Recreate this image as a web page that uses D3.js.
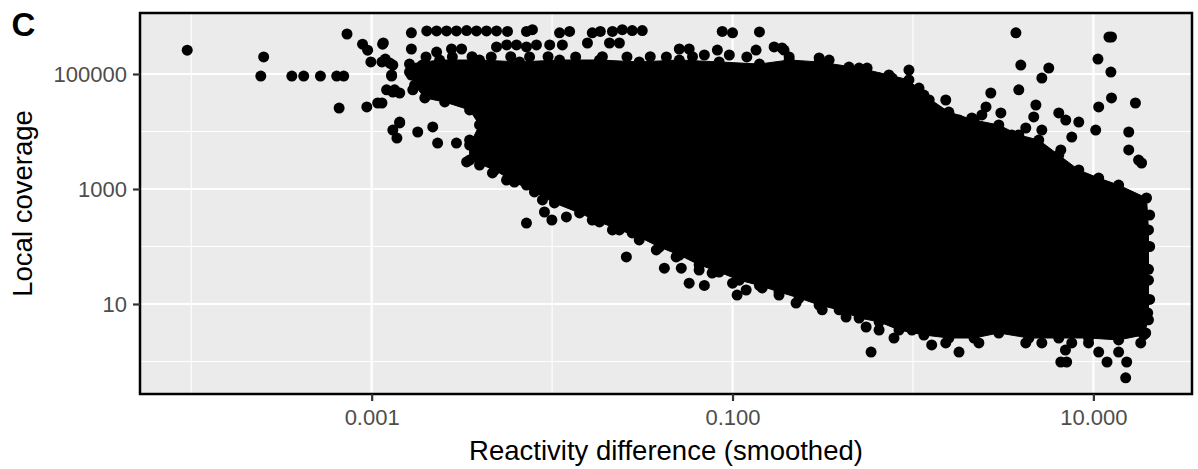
<!DOCTYPE html>
<html><head><meta charset="utf-8">
<script src="https://cdn.jsdelivr.net/npm/d3@7"></script>
<style>
body{margin:0;background:#fff}
svg{display:block}
text{font-family:"Liberation Sans",Arial,Helvetica,sans-serif}
</style>
</head><body>
<svg id="chart" width="1198" height="469"></svg>
<script>
// ---------- data ----------
const xTickValues = [0.001, 0.1, 10];
const xTickLabels = ["0.001", "0.100", "10.000"];
const yTickValues = [10, 1000, 100000];
const yTickLabels = ["10", "1000", "100000"];
const xMinorBreaks = [0.0001, 0.01, 1];
const yMinorBreaks = [1, 100, 10000];
const xDomain = [5.2e-5, 35.2];
const yDomain = [0.272, 1.15e6];

// outline of the saturated (overplotted) core of the point cloud
const coreX = [1.62e-3, 2.38e-3, 3.96e-3, 6.6e-3, 1.1e-2, 1.83e-2, 3.04e-2, 5.07e-2, 8.43e-2, 0.141, 0.206, 0.302, 0.503, 0.736, 0.95, 1.15, 1.58, 2.18, 2.99, 3.86, 4.98, 6.43, 8.3, 10.7, 13.8, 19.7, 20.2, 20.2, 20.2, 19.0, 13.8, 9.4, 6.43, 4.39, 2.99, 2.18, 1.58, 1.15, 0.837, 0.649, 0.503, 0.39, 0.302, 0.234, 0.181, 0.141, 0.109, 8.43e-2, 6.53e-2, 5.07e-2, 3.93e-2, 3.04e-2, 2.36e-2, 1.83e-2, 1.42e-2, 1.03e-2, 7.98e-3, 6.18e-3, 4.8e-3, 3.49e-3, 3.49e-3, 3.96e-3, 3.49e-3, 2.54e-3, 1.97e-3, 1.73e-3, 1.62e-3];
const coreY = [1.49e5, 1.75e5, 1.75e5, 1.62e5, 1.75e5, 1.75e5, 1.62e5, 1.75e5, 1.62e5, 1.49e5, 1.75e5, 1.62e5, 1.27e5, 9.6e4, 7.9e4, 4.3e4, 2.18e4, 1.58e4, 1.3e4, 8.7e3, 7.1e3, 3.9e3, 2.14e3, 1.55e3, 1.17e3, 697, 194, 26, 5.3, 2.9, 2.37, 2.56, 2.56, 2.56, 3.13, 2.56, 2.56, 2.89, 3.53, 4.9, 5.7, 7.9, 9.6, 12.7, 16.2, 21, 26, 36, 48, 71, 98, 146, 194, 267, 383, 571, 887, 1.32e3, 2.14e3, 3.19e3, 5.8e3, 1.3e4, 2.37e4, 3.26e4, 3.83e4, 6.4e4, 1.08e5];

// individual points outside the saturated core
const pointX = [
  9.5e-5, 2.52e-4, 2.43e-4, 3.61e-4, 4.2e-4, 5.2e-4, 6.4e-4, 7.0e-4, 6.6e-4, 7.3e-4, 8.9e-4, 9.5e-4, 1.15e-3, 9.9e-4, 1.14e-3, 1.19e-3, 1.31e-3, 1.29e-3, 1.21e-3, 1.34e-3, 9.4e-4, 1.08e-3, 1.31e-3, 1.38e-3, 1.43e-3,
  1.31e-3, 1.69e-3, 1.43e-3, 1.8e-3, 2.18e-3, 2.32e-3, 2.95e-3, 3.49e-3, 3.36e-3, 3.96e-3, 4.67e-3, 5.59e-3, 7.21e-3, 8.19e-3, 8.84e-3, 9.07e-3, 7.21e-3, 9.97e-3, 1.2e-2, 1.67e-2, 2.16e-2, 2.78e-2,
  2.58e-2, 3.04e-2, 3.78e-2, 4.19e-2, 4.87e-2, 5.2e-2, 5.75e-2, 6.98e-2, 6.53e-2, 7.71e-2, 0.1, 0.106, 0.119, 0.146, 0.181, 0.225, 0.314, 0.426, 0.55, 0.586, 0.649, 0.785, 0.988,
  1.27, 1.52, 1.8, 2.32, 4.22, 5.18, 6.6, 7.11, 7.0, 7.59, 9.4, 10.7, 11.9, 13.8, 15.3, 15.1, 18.3, 19.5,
  3.72, 3.96, 3.86, 5.66, 5.18, 12.2, 12.6, 10.6, 12.5, 2.7, 4.8, 4.67, 3.53, 3.86, 4.22, 5.18, 6.43, 7.03, 8.3, 7.59, 6.6, 6.6, 10.3, 10.7, 15.7, 17.1, 12.6, 15.7, 17.8, 18.5,
  0.188, 0.206, 0.225, 0.302, 0.343, 0.442, 0.557, 0.649, 0.766, 0.95, 1.08, 1.23, 1.52, 1.58, 1.8, 2.12, 2.41, 2.54, 3.07,
  1.26e-3, 1.29e-3, 1.43e-3, 1.14e-3, 1.66e-3, 1.91e-3,
  20.5, 20.5, 20.2, 20.5, 20.0
];
const pointY = [
  2.6e5, 1.98e5, 9.2e4, 9.2e4, 9.2e4, 9.2e4, 9.2e4, 9.2e4, 2.56e4, 4.96e5, 3.3e5, 2.6e5, 3.3e5, 1.62e5, 1.62e5, 1.82e5, 1.43e5, 9.2e4, 5.3e4, 5.3e4, 2.67e4, 3.13e4, 1.06e4, 7.7e3, 1.41e4,
  4.86e4, 5.3e4, 1.46e4, 9.8e3, 1.2e4, 6.3e3, 6.3e3, 7.1e3, 2.95e3, 2.61e3, 1.9e3, 1.43e3, 1.17e3, 961, 644, 398, 256, 289, 326, 289, 194, 172,
  65.7, 130, 87, 42, 65.7, 42, 23, 21, 39, 34.6, 23, 14.3, 17.5, 19, 14.3, 10.4, 7.9, 5.94, 3.98, 1.46, 3.53, 2.56, 3.53,
  1.94, 2.1, 1.46, 2.1, 2.1, 2.1, 0.98, 0.98, 1.58, 2.1, 2.1, 1.46, 0.98, 1.46, 0.98, 0.52, 2.1, 3.13,
  5.2e5, 1.43e5, 5.3e4, 1.27e5, 8.5e4, 4.4e5, 4.4e5, 1.82e5, 1.08e5, 4.67e4, 2.89e4, 1.79e4, 8.7e3, 6.3e3, 1.15e4, 1.06e4, 2.1e4, 1.58e4, 1.46e4, 8.0e3, 4.77e3, 2.32e3, 1.06e4, 2.67e4, 9.8e3, 3.13e4, 3.83e4, 4.77e3, 3.19e3, 2.83e3,
  2.83e5, 1.98e5, 1.32e5, 1.9e5, 1.75e5, 1.32e5, 1.27e5, 8.5e4, 8.5e4, 1.17e5, 5.7e4, 3.53e4, 3.53e4, 2.1e4, 1.58e4, 1.72e4, 1.94e4, 2.67e4, 2.1e4,
  1.55e5, 9.6e4, 4.67e4, 3.13e4, 9.6e4, 1.43e5,
  353, 100, 40, 12, 7
];

// top rows of high-coverage points
const topRowX = [1.66e-3, 2.02e-3, 2.29e-3, 2.6e-3, 2.95e-3, 3.36e-3, 3.81e-3, 4.33e-3, 4.92e-3, 5.66e-3, 7.21e-3, 7.78e-3, 1.1e-2, 1.25e-2, 1.67e-2, 1.85e-2, 2.16e-2, 2.45e-2, 2.78e-2, 3.16e-2, 8.77e-2, 0.1, 0.141];
const topRowY = [5.2e5, 5.6e5, 5.6e5, 5.6e5, 5.6e5, 5.7e5, 5.6e5, 5.6e5, 5.6e5, 5.5e5, 5.5e5, 5.9e5, 5.2e5, 5.5e5, 5.2e5, 5.5e5, 5.5e5, 5.9e5, 5.7e5, 5.7e5, 5.5e5, 5.2e5, 5.4e5];
const secondRowX = [1.16e-3, 1.66e-3, 2.29e-3, 2.77e-3, 3.15e-3, 4.92e-3, 5.6e-3, 6.35e-3, 7.21e-3, 8.19e-3, 9.7e-3, 1.14e-2, 1.57e-2, 2.08e-2, 2.36e-2, 5.07e-2, 5.75e-2, 6.98e-2, 8.24e-2, 9.6e-2, 0.135, 0.17, 0.193];
const secondRowY = [3.46e5, 2.72e5, 2.41e5, 2.72e5, 2.72e5, 2.95e5, 3.2e5, 3.2e5, 2.95e5, 3.2e5, 3.2e5, 3.2e5, 3.46e5, 3.46e5, 3.46e5, 2.72e5, 2.72e5, 2.14e5, 2.61e5, 2.14e5, 2.61e5, 2.95e5, 2.61e5];
const bandX = [2.0e-3, 2.8e-3, 3.6e-3, 4.6e-3, 5.9e-3, 7.5e-3, 9.5e-3, 1.35e-2, 1.9e-2, 2.6e-2, 3.5e-2, 4.3e-2, 6.0e-2, 0.12];
const bandY = [1.98e5, 1.98e5, 2.0e5, 1.98e5, 2.0e5, 1.98e5, 2.0e5, 1.98e5, 2.0e5, 1.98e5, 2.0e5, 1.98e5, 2.0e5, 1.98e5];

// ---------- drawing ----------
const W = 1198, H = 469;
const panel = {left: 140, right: 1192, top: 13, bottom: 394};
const R = 5.5;

const svg = d3.select("#chart");
svg.append("rect").attr("width", W).attr("height", H).attr("fill", "#ffffff");

const x = d3.scaleLog().domain(xDomain).range([panel.left, panel.right]);
const y = d3.scaleLog().domain(yDomain).range([panel.bottom, panel.top]);

svg.append("rect")
  .attr("x", panel.left).attr("y", panel.top)
  .attr("width", panel.right - panel.left).attr("height", panel.bottom - panel.top)
  .attr("fill", "#EBEBEB");

const grid = svg.append("g");
grid.selectAll(".xminor").data(xMinorBreaks).join("line")
  .attr("x1", d => x(d)).attr("x2", d => x(d)).attr("y1", panel.top).attr("y2", panel.bottom)
  .attr("stroke", "#fff").attr("stroke-width", 1.1);
grid.selectAll(".yminor").data(yMinorBreaks).join("line")
  .attr("y1", d => y(d)).attr("y2", d => y(d)).attr("x1", panel.left).attr("x2", panel.right)
  .attr("stroke", "#fff").attr("stroke-width", 1.1);
grid.selectAll(".xmajor").data(xTickValues).join("line")
  .attr("x1", d => x(d)).attr("x2", d => x(d)).attr("y1", panel.top).attr("y2", panel.bottom)
  .attr("stroke", "#fff").attr("stroke-width", 2.2);
grid.selectAll(".ymajor").data(yTickValues).join("line")
  .attr("y1", d => y(d)).attr("y2", d => y(d)).attr("x1", panel.left).attr("x2", panel.right)
  .attr("stroke", "#fff").attr("stroke-width", 2.2);

const plot = svg.append("g");
const corePts = coreX.map((v, i) => [v, coreY[i]]);
const line = d3.line().x(d => x(d[0])).y(d => y(d[1])).curve(d3.curveLinearClosed);
plot.append("path").attr("d", line(corePts)).attr("fill", "#000").attr("stroke", "#000").attr("stroke-width", 1);

const allPts = []
  .concat(corePts)
  .concat(pointX.map((v, i) => [v, pointY[i]]))
  .concat(topRowX.map((v, i) => [v, topRowY[i]]))
  .concat(secondRowX.map((v, i) => [v, secondRowY[i]]))
  .concat(bandX.map((v, i) => [v, bandY[i]]));

plot.selectAll("circle").data(allPts).join("circle")
  .attr("cx", d => x(d[0])).attr("cy", d => y(d[1])).attr("r", R).attr("fill", "#000");

// panel border
svg.append("rect")
  .attr("x", panel.left).attr("y", panel.top)
  .attr("width", panel.right - panel.left).attr("height", panel.bottom - panel.top)
  .attr("fill", "none").attr("stroke", "#000").attr("stroke-width", 2.5);

// axes
const xAxis = svg.append("g").attr("transform", `translate(0,${panel.bottom})`)
  .call(d3.axisBottom(x).tickValues(xTickValues).tickFormat((d, i) => xTickLabels[i]).tickSize(7).tickPadding(8.5));
const yAxis = svg.append("g").attr("transform", `translate(${panel.left},0)`)
  .call(d3.axisLeft(y).tickValues(yTickValues).tickFormat((d, i) => yTickLabels[i]).tickSize(7).tickPadding(6));
[xAxis, yAxis].forEach(g => {
  g.select(".domain").remove();
  g.selectAll(".tick line").attr("stroke", "#333333").attr("stroke-width", 2.2);
  g.selectAll(".tick text").attr("fill", "#4D4D4D").style("font-size", "22px")
    .style("font-family", '"Liberation Sans", Arial, sans-serif');
});

// titles
svg.append("text").attr("x", (panel.left + panel.right) / 2).attr("y", 460)
  .attr("text-anchor", "middle").style("font-size", "27.5px").attr("fill", "#000")
  .text("Reactivity difference (smoothed)");
svg.append("text")
  .attr("transform", `translate(32,${(panel.top + panel.bottom) / 2}) rotate(-90)`)
  .attr("text-anchor", "middle").style("font-size", "27.5px").attr("fill", "#000")
  .text("Local coverage");
svg.append("text").attr("x", 11.5).attr("y", 35.5)
  .style("font-size", "33px").style("font-weight", "bold").attr("fill", "#000")
  .text("C");
</script>
</body></html>
